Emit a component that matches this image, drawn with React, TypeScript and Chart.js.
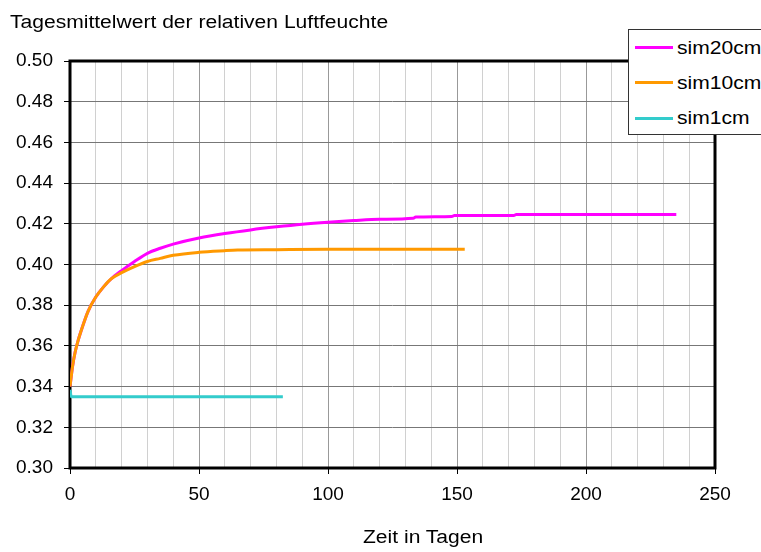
import React, { useEffect, useRef } from "react";
import { Chart, registerables } from "chart.js";
Chart.register(...registerables);

const FONT = "'Liberation Sans', Arial, sans-serif";

const sim20Days = [0, 1, 2, 3, 5, 7, 10, 13, 16, 20, 25, 30, 35, 40, 50, 60, 70, 80, 90, 100, 110, 120, 133, 134, 148, 149, 172, 173, 235];
const sim20Values = [0.340, 0.350, 0.357, 0.362, 0.370, 0.377, 0.384, 0.389, 0.393, 0.397, 0.4015, 0.4055, 0.408, 0.410, 0.413, 0.4152, 0.417, 0.4185, 0.4198, 0.4208, 0.4216, 0.4222, 0.4227, 0.4233, 0.4236, 0.4241, 0.4241, 0.4246, 0.4246];

const sim10Days = [0, 1, 2, 3, 5, 7, 10, 13, 16, 20, 25, 30, 35, 40, 50, 60, 65, 80, 100, 153];
const sim10Values = [0.340, 0.350, 0.357, 0.362, 0.370, 0.377, 0.384, 0.389, 0.393, 0.396, 0.399, 0.4015, 0.403, 0.4045, 0.406, 0.4068, 0.4071, 0.4073, 0.4075, 0.4075];

const sim1Days = [0, 0.5, 82.5];
const sim1Values = [0.3385, 0.335, 0.335];

const seriesNames = ["sim20cm", "sim10cm", "sim1cm"];
const seriesColors = ["#FF00FF", "#FF9900", "#33CCCC"];
const seriesOrder = [1, 0, 2];

const yTitle = "Tagesmittelwert der relativen Luftfeuchte";
const xTitle = "Zeit in Tagen";

const toPoints = (xs: number[], ys: number[]) => xs.map((x, i) => ({ x, y: ys[i] }));

const framePlugin = {
  id: "frame",
  beforeDatasetsDraw(chart: any) {
    const { ctx, chartArea } = chart;
    ctx.save();
    ctx.strokeStyle = "#000";
    ctx.lineWidth = 3;
    ctx.strokeRect(chartArea.left, chartArea.top, chartArea.right - chartArea.left, chartArea.bottom - chartArea.top);
    ctx.restore();
  },
};

const stretch = { transform: "scaleX(1.17)", transformOrigin: "left center" };

export default function App() {
  const ref = useRef<HTMLCanvasElement>(null);
  useEffect(() => {
    const chart = new Chart(ref.current!, {
      type: "line",
      data: {
        datasets: [
          { label: seriesNames[0], data: toPoints(sim20Days, sim20Values), borderColor: seriesColors[0], order: seriesOrder[0] },
          { label: seriesNames[1], data: toPoints(sim10Days, sim10Values), borderColor: seriesColors[1], order: seriesOrder[1] },
          { label: seriesNames[2], data: toPoints(sim1Days, sim1Values), borderColor: seriesColors[2], order: seriesOrder[2] },
        ].map((d) => ({ ...d, borderWidth: 3, pointRadius: 0, fill: false, cubicInterpolationMode: "monotone" as const })),
      },
      plugins: [framePlugin],
      options: {
        animation: false,
        responsive: true,
        maintainAspectRatio: false,
        layout: { padding: { top: 61, right: 46, left: 0, bottom: 0 } },
        plugins: { legend: { display: false }, tooltip: { enabled: false }, title: { display: false } },
        scales: {
          x: {
            type: "linear",
            min: 0,
            max: 250,
            afterFit: (s: any) => { s.height = 84; },
            border: { display: false },
            grid: {
              color: (c: any) => (c.tick && c.tick.value % 50 === 0 ? "#999" : "#d0d0d0"),
              lineWidth: 1,
              tickLength: 6,
              tickColor: (c: any) => (c.tick && c.tick.value % 50 === 0 ? "#000" : "rgba(0,0,0,0)"),
            },
            ticks: {
              stepSize: 10,
              autoSkip: false,
              maxRotation: 0,
              padding: 9,
              color: "#000",
              font: { family: FONT, size: 19 },
              callback: (v: any) => (Number(v) % 50 === 0 ? String(v) : ""),
            },
          },
          y: {
            min: 0.3,
            max: 0.5,
            afterFit: (s: any) => { s.width = 70; },
            border: { display: false },
            grid: { color: "#777", lineWidth: 1, tickLength: 6, tickColor: "#000" },
            ticks: {
              stepSize: 0.02,
              padding: 11,
              color: "#000",
              font: { family: FONT, size: 19 },
              callback: (v: any) => Number(v).toFixed(2),
            },
          },
        },
      },
    });
    return () => chart.destroy();
  }, []);

  return (
    <div style={{ position: "absolute", left: 0, top: 0, width: 761, height: 552, overflow: "hidden", background: "#fff", fontFamily: FONT }}>
      <canvas ref={ref} />
      <div style={{ position: "absolute", left: 10, top: 13, fontSize: 18, lineHeight: "18px", color: "#000", whiteSpace: "nowrap", ...stretch }}>{yTitle}</div>
      <div style={{ position: "absolute", left: 363, top: 528, fontSize: 18, lineHeight: "18px", color: "#000", whiteSpace: "nowrap", ...stretch }}>{xTitle}</div>
      <div style={{ position: "absolute", left: 628, top: 29, width: 150, height: 104, border: "1px solid #333", background: "#fff" }}>
        {seriesNames.map((n, i) => (
          <div key={n} style={{ position: "absolute", left: 6, top: 17.5 + i * 35.3 - 9, height: 18, display: "flex", alignItems: "center", whiteSpace: "nowrap" }}>
            <span style={{ display: "inline-block", width: 38, height: 3, background: seriesColors[i], marginRight: 4 }} />
            <span style={{ fontSize: 18, lineHeight: "18px", color: "#000", display: "inline-block", ...stretch }}>{n}</span>
          </div>
        ))}
      </div>
    </div>
  );
}
